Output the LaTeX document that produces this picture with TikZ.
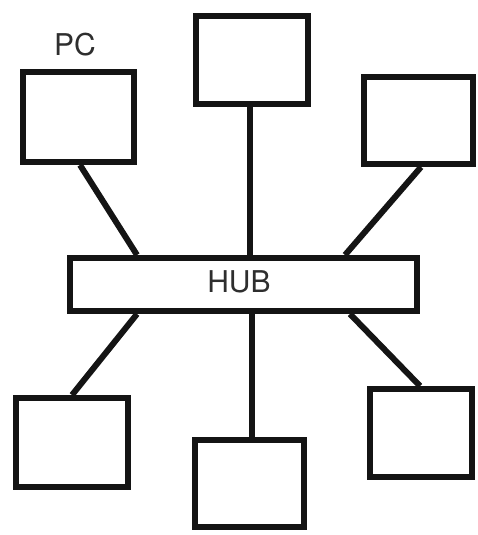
\documentclass[tikz,border=0pt]{standalone}
\usepackage{fontspec}
\setmainfont{TeX Gyre Heros}
\definecolor{txt}{HTML}{2E2E2E}
\definecolor{ln}{HTML}{141414}
\begin{document}
\begin{tikzpicture}[x=1pt,y=-1pt,
  box/.style={draw=ln,line width=6pt,fill=white,inner sep=0pt,rectangle},
  link/.style={draw=ln,line width=6pt},
  lbl/.style={text=txt,inner sep=0pt,font=\fontsize{30}{30}\selectfont}]
\useasboundingbox (0,0) rectangle (478,535);
\node[box,minimum width=111pt,minimum height=90pt] (pc) at (78.5,117) {};
\node[box,minimum width=112pt,minimum height=88pt] (tc) at (252,60) {};
\node[box,minimum width=109pt,minimum height=87pt] (tr) at (418.5,120.5) {};
\node[box,minimum width=347pt,minimum height=53pt] (hub) at (243.5,284.5) {};
\node[box,minimum width=112pt,minimum height=89pt] (bl) at (72,442.5) {};
\node[box,minimum width=109pt,minimum height=87pt] (bc) at (249.5,483.5) {};
\node[box,minimum width=102pt,minimum height=88pt] (br) at (421,433) {};
\node[lbl] (hubtext) at (239,282) {HUB};
\node[lbl] (pclabel) at (75,45) {PC};
\draw[link] ([xshift=60pt]pc.south west) -- ([xshift=70pt]hub.north west);
\draw[link] ([xshift=-2pt]tc.south) -- ([xshift=-2pt]tc.south |- hub.north);
\draw[link] ([xshift=60pt]tr.south west) -- ([xshift=278pt]hub.north west);
\draw[link] ([xshift=70pt]hub.south west) -- ([xshift=59pt]bl.north west);
\draw[link] ([xshift=2.5pt]bc.north) -- ([xshift=2.5pt]bc.north |- hub.south);
\draw[link] ([xshift=283pt]hub.south west) -- ([xshift=53pt]br.north west);
\end{tikzpicture}
\end{document}
